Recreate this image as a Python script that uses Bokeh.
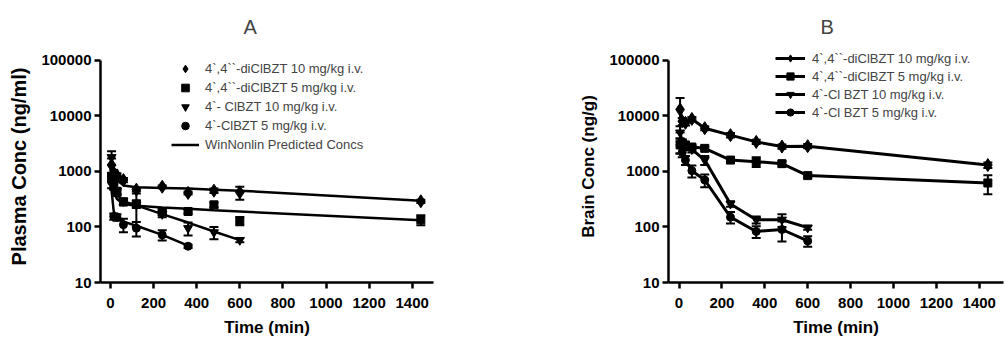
from bokeh.plotting import figure
from bokeh.models import (Range1d, FixedTicker, Legend, LegendItem, Whisker,
                          ColumnDataSource, TeeHead, NumeralTickFormatter)
from bokeh.layouts import row
from bokeh.embed import file_html
from bokeh.resources import INLINE

# ---------------- Panel A: plasma ----------------
a_times = [5, 15, 30, 60, 120, 240, 360, 480, 600, 1440]
a_di10 = [1300, 950, 850, 700, 470, 530, 410, 450, 420, 290]
a_di10_sd = [400, 100, 80, 60, 30, 30, 25, 40, 110, 20]
a_di5 = [800, 550, 420, 280, 260, 186, 190, 250, 129, 135]
a_di5_sd = [150, 80, 50, 30, 40, 20, 15, 25, 22, 28]
a_cl_times = [5, 15, 30, 60, 120, 240, 360, 480, 600]
a_cl10 = [1800, 700, 450, 290, 250, 170, 95, 80, 58]
a_cl10_sd = [500, 100, 60, 40, 150, 20, 25, 20, 5]
a_cl5_times = [5, 15, 30, 60, 120, 240, 360]
a_cl5 = [650, 155, 150, 110, 95, 72, 45]
a_cl5_sd = [150, 20, 20, 30, 28, 15, 3]

pred_times = [0, 5, 15, 30, 60, 120, 240, 360, 480, 600, 1440]
pred_di10 = [1500, 1200, 900, 700, 560, 520, 505, 490, 470, 450, 296]
pred_di5 = [900, 650, 420, 320, 260, 240, 225, 212, 200, 190, 132]
pred_cl10_times = [0, 5, 15, 30, 60, 120, 240, 360, 480, 600]
pred_cl10 = [1900, 1300, 650, 380, 290, 245, 170, 120, 83, 58]
pred_cl5_times = [0, 5, 15, 30, 60, 120, 240, 360]
pred_cl5 = [800, 450, 190, 150, 125, 105, 72, 46]

a_labels = ["4`,4``-diClBZT 10 mg/kg i.v.", "4`,4``-diClBZT 5 mg/kg i.v.",
            "4`- ClBZT 10 mg/kg i.v.", "4`-ClBZT 5 mg/kg i.v.",
            "WinNonlin Predicted Concs"]

# ---------------- Panel B: brain ----------------
b_times = [5, 15, 30, 60, 120, 240, 360, 480, 600, 1440]
b_di10 = [13000, 8000, 7500, 8800, 6000, 4500, 3400, 2800, 2850, 1300]
b_di10_sd = [8000, 1200, 800, 700, 500, 400, 300, 250, 250, 150]
b_di5 = [3000, 3100, 3000, 2750, 2600, 1600, 1500, 1380, 840, 620]
b_di5_sd = [900, 500, 300, 250, 200, 150, 300, 150, 80, 230]
b_cl_times = [5, 15, 30, 60, 120, 240, 360, 480, 600]
b_cl10 = [5000, 3300, 2800, 2500, 1600, 260, 135, 135, 97]
b_cl10_sd = [1500, 500, 400, 300, 300, 30, 20, 35, 8]
b_cl5 = [3000, 2200, 1600, 1030, 700, 150, 83, 90, 56]
b_cl5_sd = [900, 400, 300, 250, 180, 35, 20, 35, 12]

b_labels = ["4`,4``-diClBZT 10 mg/kg i.v.", "4`,4``-diClBZT 5 mg/kg i.v.",
            "4`-Cl BZT 10 mg/kg i.v.", "4`-Cl BZT 5 mg/kg i.v."]

x_ticks = [0, 200, 400, 600, 800, 1000, 1200, 1400]
y_ticks = [10, 100, 1000, 10000, 100000]

FONT = "Liberation Sans"
Y_TOP = 150300  # frame extends ~10px above the 100000 tick so the legend fits


def style(p, title, offset, ylabel, ylabel_size):
    p.title.text = title
    p.title.text_font = FONT
    p.title.text_font_size = "20px"
    p.title.text_font_style = "normal"
    p.title.align = "left"
    p.title.offset = offset
    p.title.standoff = 26
    p.xgrid.visible = False
    p.ygrid.visible = False
    p.outline_line_color = None
    p.xaxis.ticker = FixedTicker(ticks=x_ticks)
    p.yaxis.ticker = FixedTicker(ticks=y_ticks)
    p.yaxis.formatter = NumeralTickFormatter(format="0")
    p.yaxis.bounds = (10, 100000)
    p.xaxis.axis_label = "Time (min)"
    p.yaxis.axis_label = ylabel
    for ax in (p.xaxis[0], p.yaxis[0]):
        ax.axis_line_width = 2.5
        ax.axis_line_color = "black"
        ax.major_tick_line_width = 2.5
        ax.major_tick_line_color = "black"
        ax.major_tick_out = 6
        ax.major_tick_in = 0
        ax.minor_tick_line_color = None
        ax.major_label_text_font = FONT
        ax.major_label_text_font_style = "bold"
        ax.major_label_text_font_size = "15px"
        ax.major_label_text_color = "black"
        ax.axis_label_text_font = FONT
        ax.axis_label_text_font_style = "bold"
        ax.axis_label_text_color = "black"
    p.xaxis.axis_label_text_font_size = "17px"
    p.yaxis.axis_label_text_font_size = ylabel_size
    p.xaxis.major_label_standoff = 9
    p.xaxis.axis_label_standoff = 7
    p.yaxis.major_label_standoff = 3
    p.yaxis.axis_label_standoff = 8


def whisk(p, t, v, sd):
    src = ColumnDataSource(dict(t=t, up=[a + b for a, b in zip(v, sd)],
                                lo=[a - b for a, b in zip(v, sd)]))
    w = Whisker(source=src, base="t", upper="up", lower="lo",
                line_width=2, line_color="black",
                upper_head=TeeHead(size=9, line_width=2, line_color="black"),
                lower_head=TeeHead(size=9, line_width=2, line_color="black"))
    p.add_layout(w)


# ---------- figure A ----------
pa = figure(width=498, height=339, y_axis_type="log",
            x_range=Range1d(-46.4, 1498.8), y_range=Range1d(10, Y_TOP),
            output_backend="svg", toolbar_location=None,
            min_border_left=100, min_border_right=65,
            min_border_top=48, min_border_bottom=55)
style(pa, "A", 143, "Plasma Conc (ng/ml)", "20px")

lw = 2.5
l1 = pa.line(pred_times, pred_di10, line_width=lw, color="black")
pa.line(pred_times, pred_di5, line_width=lw, color="black")
pa.line(pred_cl10_times, pred_cl10, line_width=lw, color="black")
pa.line(pred_cl5_times, pred_cl5, line_width=lw, color="black")

whisk(pa, a_times, a_di10, a_di10_sd)
whisk(pa, a_times, a_di5, a_di5_sd)
whisk(pa, a_cl_times, a_cl10, a_cl10_sd)
whisk(pa, a_cl5_times, a_cl5, a_cl5_sd)

s1 = pa.scatter(a_times, a_di10, marker="diamond", size=13, color="black")
s2 = pa.scatter(a_times, a_di5, marker="square", size=8, color="black")
s3 = pa.scatter(a_cl_times, a_cl10, marker="inverted_triangle", size=9, color="black")
s4 = pa.scatter(a_cl5_times, a_cl5, marker="circle", size=8, color="black")

leg_a = Legend(items=[LegendItem(label=a_labels[0], renderers=[s1]),
                      LegendItem(label=a_labels[1], renderers=[s2]),
                      LegendItem(label=a_labels[2], renderers=[s3]),
                      LegendItem(label=a_labels[3], renderers=[s4]),
                      LegendItem(label=a_labels[4], renderers=[l1])],
               location=(71, 128), border_line_color=None,
               background_fill_alpha=0, padding=0, margin=0, spacing=0,
               glyph_width=28, glyph_height=19, label_height=19,
               label_standoff=6, label_text_font=FONT,
               label_text_font_size="13px")
pa.add_layout(leg_a)

# ---------- figure B ----------
pb = figure(width=506, height=339, y_axis_type="log",
            x_range=Range1d(-49, 1513), y_range=Range1d(10, Y_TOP),
            output_backend="svg", toolbar_location=None,
            min_border_left=170, min_border_right=1,
            min_border_top=48, min_border_bottom=55)
style(pb, "B", 152, "Brain Conc (ng/g)", "17px")

rs = []
for t, v, sd, mk, sz in [(b_times, b_di10, b_di10_sd, "diamond", 13),
                         (b_times, b_di5, b_di5_sd, "square", 8),
                         (b_cl_times, b_cl10, b_cl10_sd, "inverted_triangle", 9),
                         (b_cl_times, b_cl5, b_cl5_sd, "circle", 8)]:
    ln = pb.line(t, v, line_width=3, color="black")
    whisk(pb, t, v, sd)
    sc = pb.scatter(t, v, marker=mk, size=sz, color="black")
    rs.append([ln, sc])

leg_b = Legend(items=[LegendItem(label=lab, renderers=r) for lab, r in zip(b_labels, rs)],
               location=(107, 161), border_line_color=None,
               background_fill_alpha=0, padding=0, margin=0, spacing=0,
               glyph_width=30, glyph_height=18, label_height=18,
               label_standoff=7, label_text_font=FONT,
               label_text_font_size="13px")
pb.add_layout(leg_b)

layout = row(pa, pb)
open("out.html", "w").write(file_html(layout, INLINE))
